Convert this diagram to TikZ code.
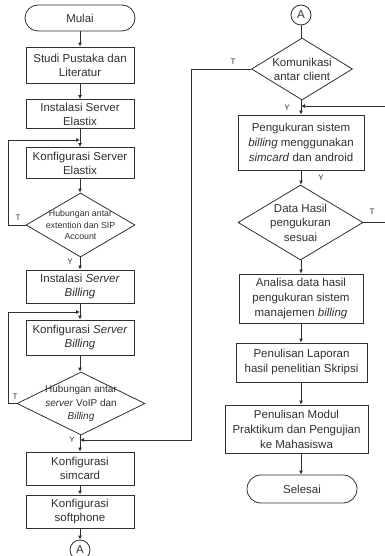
\documentclass[tikz,border=0pt]{standalone}
\usepackage{fontspec}
\setmainfont{Liberation Sans}
\usetikzlibrary{arrows.meta,shapes.geometric}
\definecolor{ink}{HTML}{303030}
\begin{document}
\begin{tikzpicture}[x=1pt,y=-1pt,line width=0.8pt,
  every node/.style={text=ink},
  procbox/.style={draw=ink,rectangle,inner sep=0pt,align=center,font=\fontsize{11.5}{13.8}\selectfont},
  termbox/.style={procbox,minimum width=110pt,minimum height=26pt,rounded corners=13pt},
  decbox/.style={draw=ink,diamond,inner sep=0pt},
  dectext/.style={align=center,inner sep=0pt},
  conn/.style={draw=ink,circle,inner sep=0pt,minimum size=20pt,font=\fontsize{11.5}{13}\selectfont},
  flow/.style={draw=ink,-{Latex[length=4pt,width=4pt]}},
  plain/.style={draw=ink},
  yt/.style={font=\fontsize{8}{9}\selectfont,inner sep=0pt}]
\useasboundingbox (0,0) rectangle (384,556);
% left column
\node[termbox] (mulai) at (80,18) {Mulai};
\node[procbox,minimum width=108pt,minimum height=36pt] (studi) at (80,65) {Studi Pustaka dan\\Literatur};
\node[procbox,minimum width=108pt,minimum height=29pt] (inst1) at (80,114) {Instalasi Server\\Elastix};
\node[procbox,minimum width=108pt,minimum height=31pt] (konf1) at (80,163) {Konfigurasi Server\\Elastix};
\node[decbox,minimum width=109pt,minimum height=64pt] (dia1) at (80.5,225) {};
\node[dectext,font=\fontsize{8.8}{11.5}\selectfont] (dia1t) at (dia1) {Hubungan antar\\extention dan SIP\\Account};
\node[procbox,minimum width=108pt,minimum height=33pt] (inst2) at (80,286.5) {Instalasi \textit{Server}\\\textit{Billing}};
\node[procbox,minimum width=108pt,minimum height=35pt] (konf2) at (80,337.5) {Konfigurasi \textit{Server}\\\textit{Billing}};
\node[decbox,minimum width=128pt,minimum height=63pt] (dia2) at (81,403.5) {};
\node[dectext,font=\fontsize{10}{13.3}\selectfont] (dia2t) at (dia2) {Hubungan antar\\\textit{server} VoIP dan\\\textit{Billing}};
\node[procbox,minimum width=108pt,minimum height=33pt] (sim) at (80,468.5) {Konfigurasi\\simcard};
\node[procbox,minimum width=108pt,minimum height=33pt] (soft) at (80,511.5) {Konfigurasi\\softphone};
\node[conn] (ca) at (80,550) {A};
% right column
\node[conn] (cb) at (301,15) {A};
\node[decbox,minimum width=101pt,minimum height=62pt] (dia3) at (302,69) {};
\node[dectext,font=\fontsize{11.5}{14}\selectfont] (dia3t) at (dia3) {Komunikasi\\antar client};
\node[procbox,minimum width=126pt,minimum height=55pt,font=\fontsize{11.5}{15}\selectfont] (ukur) at (301,142.5) {Pengukuran sistem\\\textit{billing} menggunakan\\\textit{simcard} dan android};
\node[decbox,minimum width=125pt,minimum height=75pt] (dia4) at (300.5,222.5) {};
\node[dectext,font=\fontsize{11.5}{14.5}\selectfont] (dia4t) at (dia4) {Data Hasil\\pengukuran\\sesuai};
\node[procbox,minimum width=124pt,minimum height=49pt,font=\fontsize{11.5}{15}\selectfont] (anal) at (301,298.5) {Analisa data hasil\\pengukuran sistem\\manajemen \textit{billing}};
\node[procbox,minimum width=131pt,minimum height=39pt,font=\fontsize{11.5}{15}\selectfont] (lap) at (301.5,362.5) {Penulisan Laporan\\hasil penelitian Skripsi};
\node[procbox,minimum width=143pt,minimum height=48pt,font=\fontsize{11.5}{15}\selectfont] (modul) at (296.5,429) {Penulisan Modul\\Praktikum dan Pengujian\\ke Mahasiswa};
\node[termbox,minimum width=110pt,minimum height=28pt,rounded corners=14pt] (selesai) at (302,489) {Selesai};
% junctions
\coordinate (j1) at (80,140);
\coordinate (j2) at (80,312);
\coordinate (j3) at (80,440);
\coordinate (j4) at (301,106);
\coordinate (l1) at (8,225);
\coordinate (l2) at (8,403.5);
\coordinate (r3) at (191,69);
\coordinate (r4) at (386,222.5);
% main flow left
\draw[flow] (mulai) -- (studi);
\draw[flow] (studi) -- (inst1);
\draw[flow] (inst1) -- (konf1);
\draw[flow] (konf1) -- (konf1.south |- dia1.north);
\draw[flow] (dia1.south -| inst2.north) -- (inst2);
\draw[flow] (inst2) -- (konf2);
\draw[flow] (konf2.south) -- (konf2.south |- dia2.north);
\draw[flow] (dia2.south -| sim.north) -- (sim);
\draw[flow] (sim) -- (soft);
\draw[flow] (soft) -- (ca);
% loops left
\draw[flow] (dia1.west) -- (l1) |- (j1);
\draw[flow] (dia2.west) -- (l2) |- (j2);
% right flow
\draw[plain] (cb) -- (cb.south |- dia3.north);
\draw[flow] (cb.south |- dia3.south) -- (ukur);
\draw[flow] (ukur) -- (ukur.south |- dia4.north);
\draw[flow] (ukur.south |- dia4.south) -- (anal);
\draw[flow] (anal) -- (anal.south |- lap.north);
\draw[flow] (anal.south |- lap.south) -- (anal.south |- modul.north);
\draw[flow] (anal.south |- modul.south) -- (anal.south |- selesai.north);
% cross connectors
\draw[flow] (dia3.west) -- (r3) |- (j3);
\draw[flow] (dia4.east) -- (r4) |- (j4);
% labels
\node[yt] (t1) at (18,218) {T};
\node[yt] (y1) at (70,262) {Y};
\node[yt] (t2) at (15,397) {T};
\node[yt] (y2) at (72,440) {Y};
\node[yt] (t3) at (233,62) {T};
\node[yt] (y3) at (287,108) {Y};
\node[yt] (y4) at (321,178) {Y};
\node[yt] (t4) at (372,212) {T};
\end{tikzpicture}
\end{document}
